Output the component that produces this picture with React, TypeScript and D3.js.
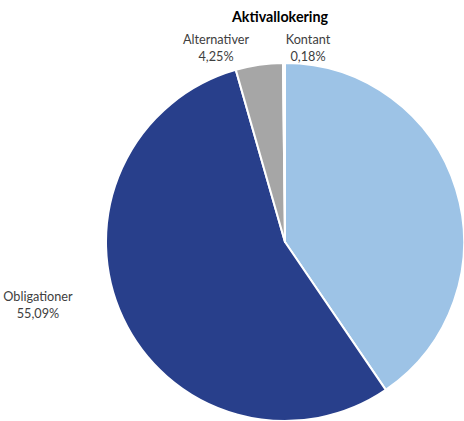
import React, { useRef, useEffect } from 'react';
import * as d3 from 'd3';

const categories = ['Aksjer', 'Obligationer', 'Alternativer', 'Kontant'];
const shares = [40.48, 55.09, 4.25, 0.18];
const colors = ['#9dc3e6', '#283f8b', '#a6a6a6', '#d9d9d9'];
const labelText = ['', '55,09%', '4,25%', '0,18%'];

const App: React.FC = () => {
  const svgRef = useRef<SVGSVGElement>(null);
  const width = 464;
  const height = 421;

  useEffect(() => {
    if (!svgRef.current) return;
    const svg = d3.select(svgRef.current);
    svg.selectAll('*').remove();

    const cx = 285;
    const cy = 242;
    const radius = 179;
    const font = 'Lato, "Open Sans", sans-serif';

    const pie = d3.pie<number>().sort(null).value(d => d);
    const arc = d3.arc<d3.PieArcDatum<number>>().innerRadius(0).outerRadius(radius);
    const arcs = pie(shares);

    const g = svg.append('g').attr('transform', `translate(${cx},${cy})`);

    g.selectAll('path')
      .data(arcs)
      .enter().append('path')
      .attr('d', arc)
      .attr('fill', (_, i) => colors[i])
      .attr('stroke', '#fff')
      .attr('stroke-width', 2)
      .attr('stroke-linejoin', 'round');

    // title
    svg.append('text')
      .attr('x', 280)
      .attr('y', 22)
      .attr('text-anchor', 'middle')
      .attr('font-family', font)
      .attr('font-size', 14.3)
      .attr('font-weight', 'bold')
      .attr('fill', '#000')
      .text('Aktivallokering');

    // labels placed outside the pie
    const labelPos: Record<string, [number, number]> = {
      Obligationer: [38, 301],
      Alternativer: [216, 44],
      Kontant: [308, 44],
    };

    categories.forEach((c, i) => {
      const p = labelPos[c];
      if (!p) return;
      const t = svg.append('text')
        .attr('x', p[0])
        .attr('y', p[1])
        .attr('text-anchor', 'middle')
        .attr('font-family', font)
        .attr('font-size', 12.7)
        .attr('fill', '#404040');
      t.append('tspan').attr('x', p[0]).text(c);
      t.append('tspan').attr('x', p[0]).attr('dy', 17).text(labelText[i]);
    });
  }, []);

  return (
    <svg
      ref={svgRef}
      width={width}
      height={height}
      style={{ position: 'absolute', left: 0, top: 0, background: '#fff' }}
    />
  );
};

export default App;
